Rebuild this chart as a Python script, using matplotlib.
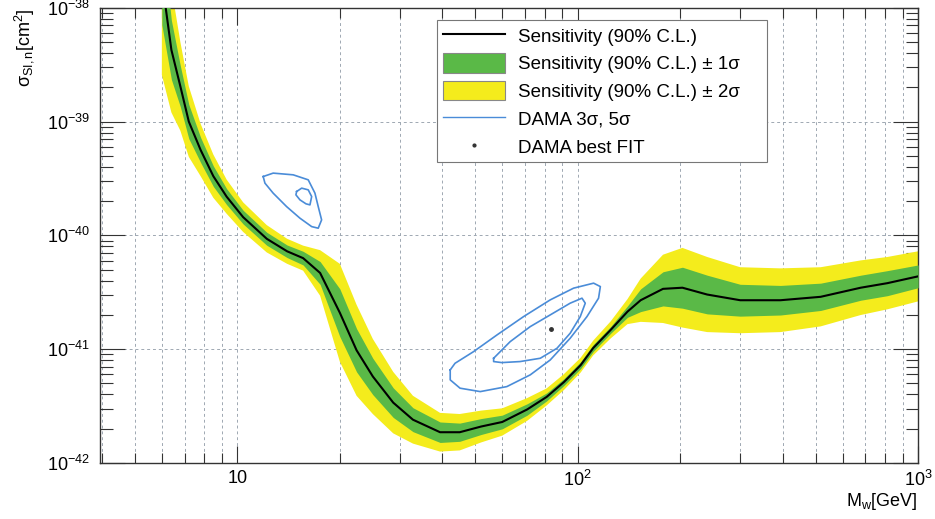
import numpy as np
import matplotlib.pyplot as plt
from matplotlib.lines import Line2D
from matplotlib.patches import Patch
from matplotlib.ticker import FixedLocator, FixedFormatter, LogLocator, NullFormatter

plt.rcParams['font.family'] = ['Liberation Sans', 'DejaVu Sans']
plt.rcParams['mathtext.fontset'] = 'custom'
plt.rcParams['mathtext.rm'] = 'Liberation Sans'
plt.rcParams['mathtext.it'] = 'Liberation Sans:italic'
plt.rcParams['mathtext.bf'] = 'Liberation Sans:bold'

# sensitivity curve: WIMP mass [GeV] and log10(sigma [cm^2])
mass = [6.0, 6.4, 6.8, 7.2, 7.8, 8.5, 9.3, 10.4, 12.2, 14.0, 15.6, 17.5, 20.0,
        22.4, 25.0, 28.7, 32.8, 39.4, 45.0, 52.0, 60.0, 71.0, 81.0, 91.0, 102.0,
        111.0, 125.0, 140.0, 153.0, 178.0, 203.0, 240.0, 300.0, 394.0, 517.0,
        678.0, 812.0, 1000.0]
sens_log = [-37.75, -38.37, -38.69, -39.00, -39.25, -39.48, -39.66, -39.84, -40.03,
            -40.14, -40.20, -40.33, -40.68, -41.01, -41.24, -41.47, -41.62, -41.73,
            -41.73, -41.68, -41.64, -41.53, -41.42, -41.29, -41.14, -40.99, -40.83,
            -40.67, -40.57, -40.47, -40.46, -40.52, -40.57, -40.57, -40.54, -40.46,
            -40.42, -40.36]
# half widths of the bands in decades
band1 = [0.40, 0.26, 0.18, 0.15, 0.11, 0.09, 0.07, 0.06, 0.057, 0.055, 0.06, 0.10,
         0.21, 0.19, 0.16, 0.13, 0.105, 0.09, 0.08, 0.07, 0.06, 0.05, 0.035, 0.03,
         0.03, 0.03, 0.03, 0.05, 0.10, 0.15, 0.18, 0.17, 0.14, 0.13, 0.12, 0.11,
         0.11, 0.10]
band2 = [0.84, 0.55, 0.39, 0.31, 0.23, 0.19, 0.15, 0.13, 0.12, 0.11, 0.11, 0.20,
         0.43, 0.40, 0.33, 0.27, 0.21, 0.17, 0.16, 0.14, 0.12, 0.10, 0.075, 0.07,
         0.065, 0.065, 0.075, 0.11, 0.19, 0.30, 0.35, 0.33, 0.29, 0.28, 0.26, 0.24,
         0.23, 0.22]

# DAMA contours (mass, log10 sigma)
dama_low5_m = [11.91, 12.74, 14.59, 16.15, 16.90, 17.28, 17.68, 17.28, 16.53, 15.27,
               13.95, 12.74, 12.05, 11.91]
dama_low5_s = [-39.483, -39.453, -39.468, -39.512, -39.629, -39.747, -39.864, -39.937,
               -39.923, -39.849, -39.747, -39.629, -39.541, -39.483]
dama_low3_m = [14.93, 15.45, 16.15, 16.53, 16.34, 15.91, 15.27, 14.86, 14.93]
dama_low3_s = [-39.615, -39.585, -39.600, -39.659, -39.732, -39.723, -39.688, -39.644,
               -39.615]
dama_high5_m = [42.2, 43.6, 49.4, 57.9, 69.3, 83.0, 97.2, 111.3, 116.5, 115.1, 106.4,
                95.0, 83.0, 72.5, 61.9, 51.7, 45.1, 42.2, 42.2]
dama_high5_s = [-41.182, -41.124, -41.022, -40.875, -40.714, -40.567, -40.464, -40.420,
                -40.450, -40.552, -40.714, -40.904, -41.095, -41.226, -41.329, -41.373,
                -41.343, -41.270, -41.182]
dama_high3_m = [56.6, 63.3, 72.5, 83.0, 95.0, 102.9, 105.2, 101.7, 95.0, 86.9, 77.6,
                67.7, 59.8, 56.6, 56.6]
dama_high3_s = [-41.080, -40.934, -40.802, -40.699, -40.596, -40.552, -40.596, -40.714,
                -40.860, -40.992, -41.080, -41.109, -41.118, -41.109, -41.080]
best_m = [83.4]
best_s = [-40.825]

xticks = [10, 100, 1000]
xticklabels = ['10', r'$10^{2}$', r'$10^{3}$']
yticks = [1e-42, 1e-41, 1e-40, 1e-39, 1e-38]
yticklabels = [r'$10^{-42}$', r'$10^{-41}$', r'$10^{-40}$', r'$10^{-39}$', r'$10^{-38}$']

green = '#5ab947'
yellow = '#f4ec1c'
blue = '#4a8cd8'
gridc = '#9ea8b2'

m = np.array(mass)
s = np.array(sens_log)
e1 = np.array(band1)
e2 = np.array(band2)

fig = plt.figure(figsize=(9.35, 5.19), dpi=100)
ax = fig.add_axes([0.107, 0.108, 0.875, 0.877])
ax.set_xscale('log')
ax.set_yscale('log')

ax.fill_between(m, 10 ** (s - e2), 10 ** (s + e2), color=yellow, lw=0, zorder=2)
ax.fill_between(m, 10 ** (s - e1), 10 ** (s + e1), color=green, lw=0, zorder=3)
ax.plot(m, 10 ** s, color='k', lw=1.5, solid_joinstyle='round', zorder=4)

for cm, cs in [(dama_low5_m, dama_low5_s), (dama_low3_m, dama_low3_s),
               (dama_high5_m, dama_high5_s), (dama_high3_m, dama_high3_s)]:
    ax.plot(cm, 10 ** np.array(cs), color=blue, lw=1.2, solid_joinstyle='round', zorder=5)
ax.plot(best_m, 10 ** np.array(best_s), ls='none', marker='o', ms=2.5, color='#333333', zorder=6)

ax.set_xlim(3.95, 1000)
ax.set_ylim(1e-42, 1e-38)

ax.xaxis.set_major_locator(FixedLocator(xticks))
ax.xaxis.set_major_formatter(FixedFormatter(xticklabels))
minx = [v * d for d in (1, 10, 100) for v in range(2, 10) if 3.95 <= v * d < 1000]
ax.xaxis.set_minor_locator(FixedLocator(minx))
ax.xaxis.set_minor_formatter(NullFormatter())
ax.yaxis.set_major_locator(FixedLocator(yticks))
ax.yaxis.set_major_formatter(FixedFormatter(yticklabels))
ax.yaxis.set_minor_locator(LogLocator(base=10, subs=np.arange(2, 10), numticks=20))
ax.yaxis.set_minor_formatter(NullFormatter())

ax.tick_params(which='both', direction='in', top=True, right=True, labelsize=13,
               color='#333333', width=0.8)
ax.tick_params(axis='y', which='major', length=18, pad=7)
ax.tick_params(axis='y', which='minor', length=9)
ax.tick_params(axis='x', which='major', length=12, pad=5)
ax.tick_params(axis='x', which='minor', length=7)

ax.set_axisbelow(True)
ax.grid(which='both', axis='x', color=gridc, ls=(0, (3, 3)), lw=0.7)
ax.grid(which='major', axis='y', color=gridc, ls=(0, (3, 3)), lw=0.7)
for sp in ax.spines.values():
    sp.set_color('#333333')
    sp.set_linewidth(1.0)

fig.text(0.026, 1 - 8 / 519, r'σ$_{\mathrm{SI,n}}$[cm$^{2}$]', rotation=90,
         ha='center', va='top', fontsize=13)
fig.text(918 / 935, 1 - 502 / 519, r'M$_{\mathrm{w}}$[GeV]', ha='right', va='center',
         fontsize=13)

handles = [Line2D([], [], color='k', lw=1.5),
           Patch(facecolor=green, edgecolor='#888888', lw=0.8),
           Patch(facecolor=yellow, edgecolor='#888888', lw=0.8),
           Line2D([], [], color=blue, lw=1.0),
           Line2D([], [], ls='none', marker='o', ms=2, color='#333333')]
labels = ['Sensitivity (90% C.L.)', 'Sensitivity (90% C.L.) ± 1σ',
          'Sensitivity (90% C.L.) ± 2σ', 'DAMA 3σ, 5σ', 'DAMA best FIT']
leg = ax.legend(handles, labels, loc='upper left',
                bbox_to_anchor=(437 / 935, 1 - 163 / 519, 330 / 935, 143 / 519),
                bbox_transform=fig.transFigure, mode='expand', borderaxespad=0,
                fontsize=13.5, frameon=True, fancybox=False, framealpha=1,
                edgecolor='#777777', handlelength=3.3, handleheight=1.2,
                handletextpad=0.7, labelspacing=0.42, borderpad=0.3)
leg.get_frame().set_linewidth(0.8)
leg.set_zorder(10)

fig.savefig('out.png', dpi=100)
